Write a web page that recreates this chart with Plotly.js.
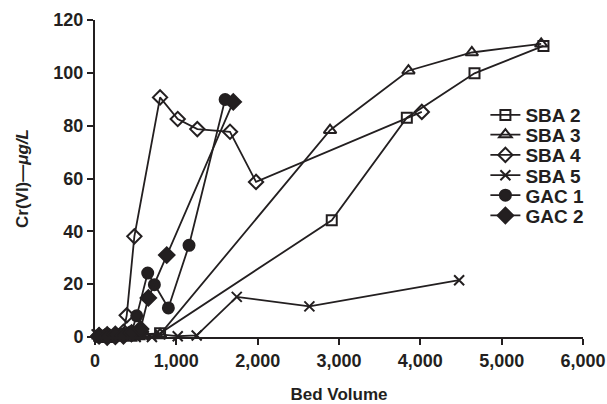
<!DOCTYPE html>
<html>
<head>
<meta charset="utf-8">
<script src="https://cdn.plot.ly/plotly-3.0.1.min.js"></script>
<style>html,body{margin:0;padding:0;background:#fff;}#chart{width:607px;height:404px;}</style>
</head>
<body>
<div id="chart"></div>
<script>
const seriesNames = ["SBA 2", "SBA 3", "SBA 4", "SBA 5", "GAC 1", "GAC 2"];
const sba2X = [50, 150, 250, 350, 450, 550, 800, 2911, 3834, 4666, 5514];
const sba2Y = [0.5, 0, 0.5, 1, 0.5, 1, 1.4, 44.2, 83, 99.8, 110.2];
const sba3X = [50, 150, 250, 350, 450, 600, 800, 2890, 3854, 4633, 5486];
const sba3Y = [1, 0.5, 0, 1, 0.5, 1, 1, 78.3, 100.8, 107.7, 111];
const sba4X = [50, 150, 250, 350, 390, 484, 800, 1017, 1258, 1660, 1980, 4018];
const sba4Y = [0.5, 1, 0, 2, 8.2, 38.1, 90.7, 82.5, 78.7, 77.7, 58.7, 85.2];
const sba5X = [20, 100, 200, 300, 400, 500, 600, 700, 800, 1017, 1250, 1743, 2636, 4477];
const sba5Y = [1, 0, 0.5, 0, 1, 0, 0.5, 0, 1, 0.3, 0.6, 15.2, 11.6, 21.5];
const gac1X = [50, 150, 250, 350, 450, 513, 648, 730, 902, 1156, 1600];
const gac1Y = [0, 1, 0.5, 1, 2, 8, 24.2, 19.8, 11, 34.7, 89.9];
const gac2X = [50, 150, 250, 350, 450, 560, 656, 882, 1700];
const gac2Y = [0.5, 0, 1, 0.5, 1.5, 3, 14.8, 31, 89];
const xTickVals = [0, 1000, 2000, 3000, 4000, 5000, 6000];
const xTickText = ["0", "1,000", "2,000", "3,000", "4,000", "5,000", "6,000"];
const yTickVals = [0, 20, 40, 60, 80, 100, 120];

const ink = "#231f20";
const symbols = ["square-open", "triangle-up-open", "diamond-open", "x-thin-open", "circle", "diamond"];
const sizes = [10, 11, 11, 10, 11, 12];
const xs = [sba2X, sba3X, sba4X, sba5X, gac1X, gac2X];
const ys = [sba2Y, sba3Y, sba4Y, sba5Y, gac1Y, gac2Y];
const legendIds = ["legend", "legend2", "legend3", "legend4", "legend5", "legend6"];

const traces = seriesNames.map((n, i) => ({
  type: "scatter",
  mode: "lines+markers",
  name: n,
  x: xs[i],
  y: ys[i],
  legend: legendIds[i],
  cliponaxis: false,
  line: {color: ink, width: 1.8},
  marker: {symbol: symbols[i], size: sizes[i], color: ink, line: {color: ink, width: 2}}
}));

const fam = "Liberation Sans, Arial, sans-serif";
const bold = (s) => ({family: fam, size: s, color: ink, weight: "bold"});
const layout = {
  width: 607, height: 404,
  margin: {l: 95, r: 24, t: 20, b: 67},
  paper_bgcolor: "#fff", plot_bgcolor: "#fff",
  showlegend: true,
  font: {family: fam, color: ink},
  xaxis: {
    range: [0, 6000], tickvals: xTickVals, ticktext: xTickText,
    showgrid: false, zeroline: false, showline: true, linecolor: ink, linewidth: 2,
    ticks: "outside", ticklen: 6, tickwidth: 2, tickcolor: ink,
    tickfont: bold(18),
    title: {text: "<b>Bed Volume</b>", font: {family: fam, size: 17, color: ink}, standoff: 20}
  },
  yaxis: {
    range: [0, 120], tickvals: yTickVals,
    showgrid: false, zeroline: false, showline: true, linecolor: ink, linewidth: 2,
    ticks: "outside", ticklen: 6, tickwidth: 2, tickcolor: ink,
    tickfont: bold(18),
    title: {text: "<b>Cr(VI)—<i>μg/L</i></b>", font: {family: fam, size: 17, color: ink}, standoff: 20}
  }
};
const legendY = [0.70, 0.638, 0.574, 0.51, 0.447, 0.383];
legendIds.forEach((id, i) => {
  layout[id] = {
    x: 0.8, y: legendY[i], xanchor: "left", yanchor: "middle",
    font: bold(19), bgcolor: "rgba(0,0,0,0)", itemwidth: 30
  };
});
Plotly.newPlot("chart", traces, layout, {displayModeBar: false, staticPlot: true});
</script>
</body>
</html>
